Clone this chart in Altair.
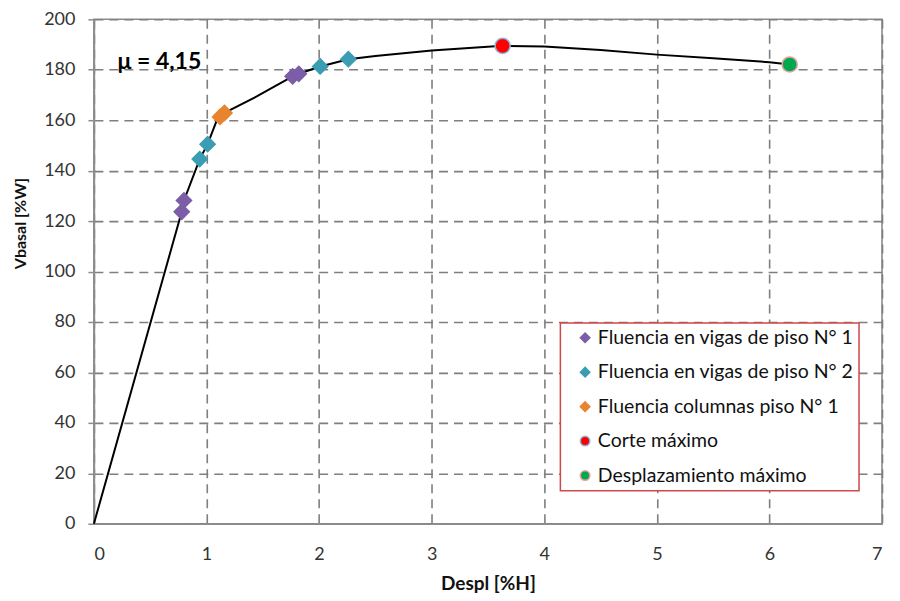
import altair as alt
import pandas as pd

# Capacity (pushover) curve
curve_x = [0, 0.78, 0.80, 0.94, 1.01, 1.10, 1.16, 1.45, 1.765, 1.82, 2.01, 2.26, 2.5, 3.0, 3.63, 4.0, 4.5, 5.0, 5.5, 6.0, 6.18]
curve_y = [0, 123.7, 128.2, 144.6, 150.5, 160.9, 162.9, 169.5, 177.4, 178.4, 181.3, 184.2, 185.5, 187.6, 189.5, 189.2, 187.8, 186.0, 184.6, 183.0, 182.1]

series_names = [
    "Fluencia en vigas de piso N° 1",
    "Fluencia en vigas de piso N° 2",
    "Fluencia columnas piso N° 1",
    "Corte máximo",
    "Desplazamiento máximo",
]
series_fill = ["#7B5EA7", "#3A9DB4", "#E8842F", "#FF0000", "#00A84F"]
series_stroke = ["#7B5EA7", "#3A9DB4", "#E8842F", "#8FB4E3", "#E8A0A0"]
series_shape = ["diamond", "diamond", "diamond", "circle", "circle"]

v1_x = [0.78, 0.80, 1.765, 1.82]
v1_y = [123.7, 128.2, 177.4, 178.4]
v2_x = [0.94, 1.01, 2.01, 2.26]
v2_y = [144.6, 150.5, 181.3, 184.2]
c1_x = [1.12, 1.16]
c1_y = [161.3, 162.9]
vmax_x = [3.63]
vmax_y = [189.5]
dmax_x = [6.18]
dmax_y = [182.1]

x_ticks = [0, 1, 2, 3, 4, 5, 6, 7]
y_ticks = [0, 20, 40, 60, 80, 100, 120, 140, 160, 180, 200]

annot_text = "μ = 4,15"
annot_x = 0.21
annot_y = 183.1

FONT = "Lato"

curve_df = pd.DataFrame({"x": curve_x, "y": curve_y, "order": list(range(len(curve_x)))})

rows = []
for name, xs, ys in zip(series_names, [v1_x, v2_x, c1_x, vmax_x, dmax_x],
                        [v1_y, v2_y, c1_y, vmax_y, dmax_y]):
    for a, b in zip(xs, ys):
        rows.append({"x": a, "y": b, "series": name})
pts_df = pd.DataFrame(rows)

xscale = alt.Scale(domain=[0, 7], nice=False, zero=False)
yscale = alt.Scale(domain=[0, 200], nice=False)

xaxis = alt.Axis(values=x_ticks, title="Despl [%H]", format="d", tickSize=0,
                 labelPadding=22, titlePadding=11, titleFontSize=19)
yaxis = alt.Axis(values=y_ticks, title="Vbasal [%W]", format="d", tickSize=6,
                 labelPadding=13, titleFontSize=16,
                 titleX=-73, titleY=204, titleBaseline="middle", titleAlign="center")

line = alt.Chart(curve_df).mark_line(color="black", strokeWidth=2).encode(
    x=alt.X("x:Q", scale=xscale, axis=xaxis),
    y=alt.Y("y:Q", scale=yscale, axis=yaxis),
    order="order:Q",
)

legend = alt.Legend(
    title=None, orient="none", legendX=467, legendY=304,
    strokeColor="#D04848", fillColor="white",
    padding=5, symbolOffset=10, rowPadding=13.5, labelFontSize=19.5,
    labelFont=FONT, labelColor="#111111", symbolSize=90, labelOffset=3,
    symbolStrokeWidth=1.5, labelLimit=400,
)

points = alt.Chart(pts_df).mark_point(filled=True, opacity=1, size=230, strokeWidth=1.5).encode(
    x=alt.X("x:Q", scale=xscale),
    y=alt.Y("y:Q", scale=yscale),
    color=alt.Color("series:N", scale=alt.Scale(domain=series_names, range=series_fill), legend=legend),
    shape=alt.Shape("series:N", scale=alt.Scale(domain=series_names, range=series_shape), legend=legend),
    stroke=alt.Stroke("series:N", scale=alt.Scale(domain=series_names, range=series_stroke), legend=legend),
)

annot = alt.Chart(pd.DataFrame({"x": [annot_x], "y": [annot_y], "t": [annot_text]})).mark_text(
    align="left", baseline="middle", fontSize=23, fontWeight="bold", font=FONT, color="black"
).encode(x=alt.X("x:Q", scale=xscale), y=alt.Y("y:Q", scale=yscale), text="t:N")

chart = alt.layer(line, points, annot).properties(
    width=789, height=505,
    autosize=alt.AutoSizeParams(type="none"),
    padding={"left": 86, "top": 11, "right": 10, "bottom": 70},
).configure_axis(
    labelFont=FONT, labelFontSize=18, labelColor="#333333",
    titleFont=FONT, titleFontWeight="bold", titleColor="#111111",
    gridColor="#7F7F7F", gridDash=[9, 6], gridWidth=1.6,
    domainColor="#8C8C8C", domainWidth=1.6, tickColor="#8C8C8C", tickWidth=1.5,
).configure_legend(
    strokeWidth=1.5
).configure_view(
    stroke="#8C8C8C", strokeWidth=1.6
)

chart.save("out.html", embed_options={"renderer": "svg", "actions": False})
